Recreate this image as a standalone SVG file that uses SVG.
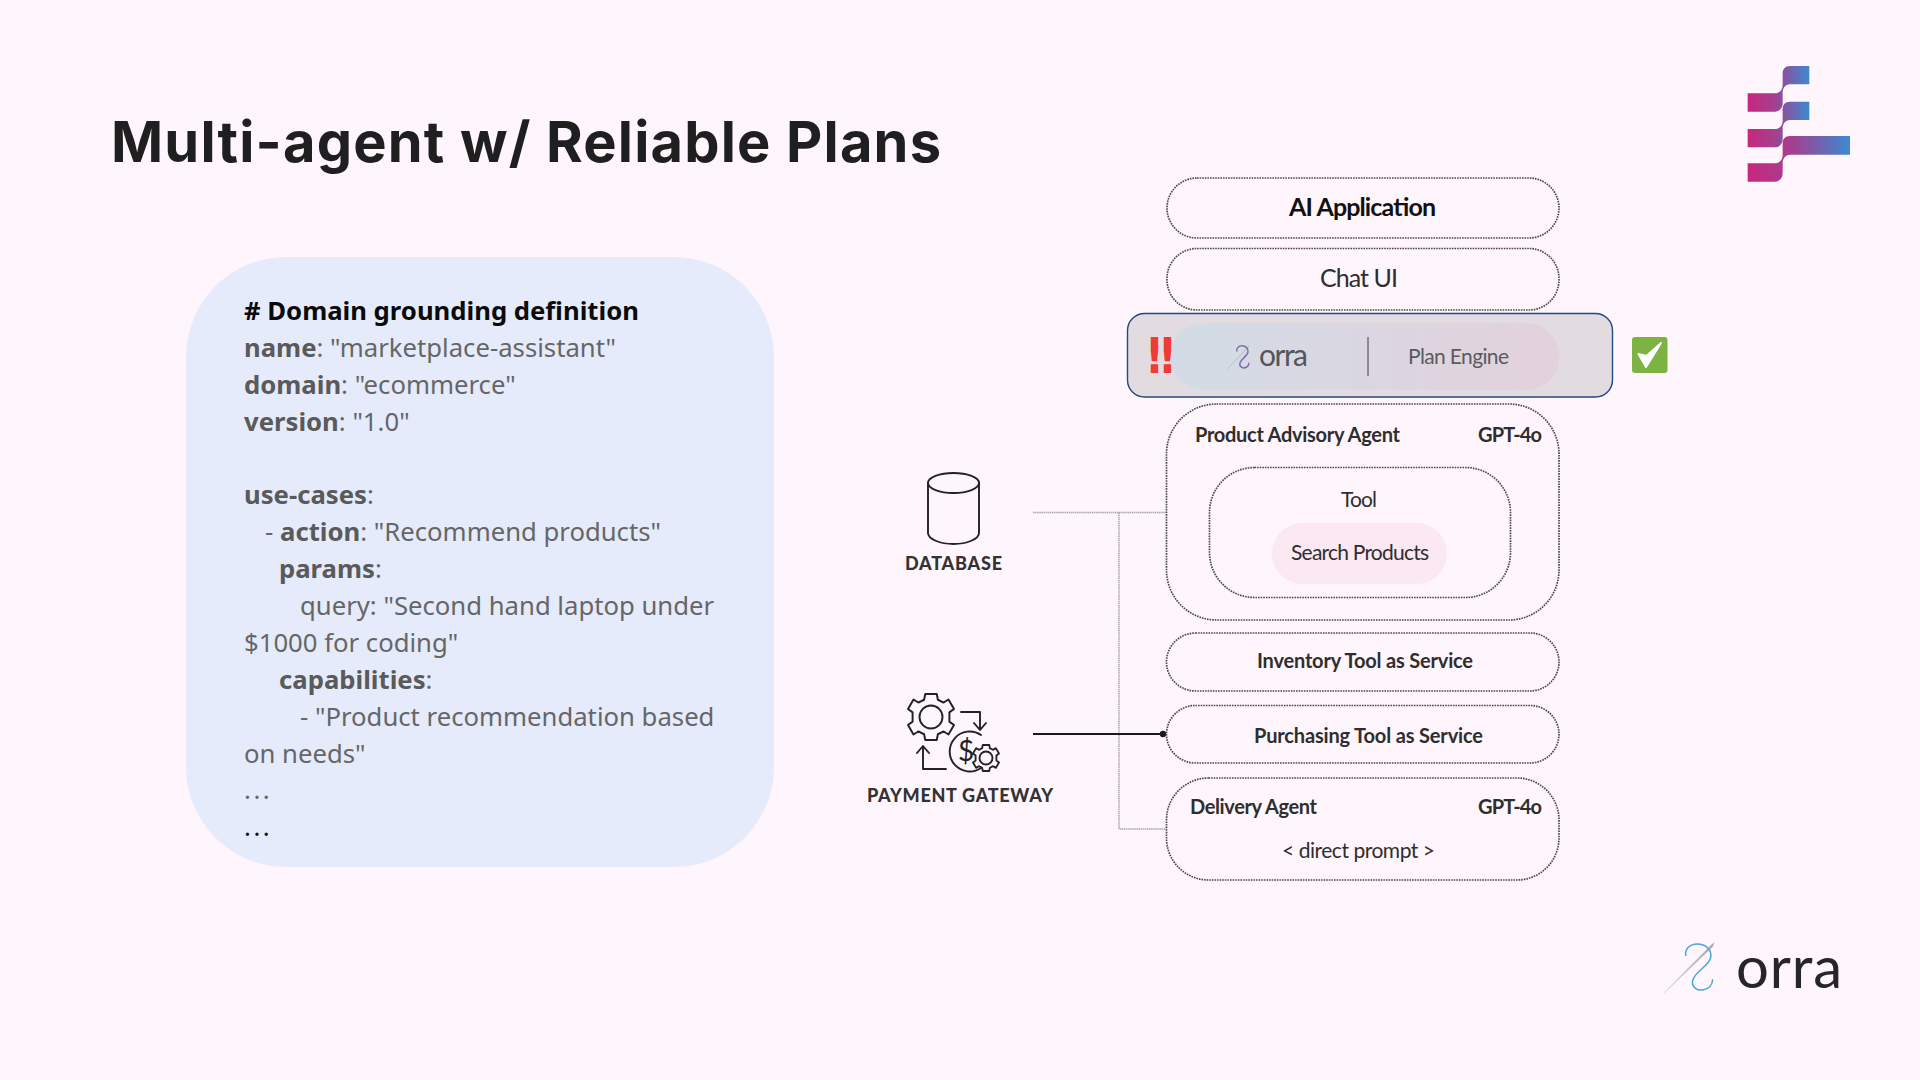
<svg xmlns="http://www.w3.org/2000/svg" width="1920" height="1080" viewBox="0 0 1920 1080">
<style>
.box{fill:none;stroke:#4a4a4a;stroke-width:1.7;stroke-dasharray:1.6 1}
.f{font-family:"Lato","Noto Sans",sans-serif;fill:#2e2e2e}
.m{font-weight:700;font-size:20px}
.r{font-weight:400;font-size:21px}
.p{font-family:"Noto Sans","Open Sans",sans-serif;font-size:25.7px;fill:#666}
.b{font-weight:700;fill:#5a5a5a}
.lab{font-family:"Lato",sans-serif;font-weight:900;font-size:18px;fill:#333}
.ic{fill:none;stroke:#222;stroke-width:1.9;stroke-linecap:round;stroke-linejoin:round}
</style>
<defs>
<linearGradient id="lg" x1="0" x2="1" y1="0" y2="0"><stop offset="0" stop-color="#c9267f"/><stop offset=".45" stop-color="#a2418f"/><stop offset="1" stop-color="#3b8ad2"/></linearGradient>
<linearGradient id="pill" x1="0" x2="1" y1="0" y2="0"><stop offset="0" stop-color="#d2dce6"/><stop offset="1" stop-color="#e3d1dc"/></linearGradient>
<linearGradient id="ndl" x1="0" x2="1" y1="1" y2="0"><stop offset="0" stop-color="#e2e2e6"/><stop offset="1" stop-color="#a3a3a8"/></linearGradient>
<marker id="dot" viewBox="0 0 8 8" refX="4" refY="4" markerWidth="8" markerHeight="8" markerUnits="userSpaceOnUse"><circle cx="4" cy="4" r="3.2" fill="#1a1a1a"/></marker>
<path id="thread" d="M138 108C132 88 150 72 172 72C198 72 216 90 212 112C207 140 165 152 158 182C154 202 172 212 188 210C206 207 218 195 218 178" fill="none"/>
<path id="needle" d="M69 220L214 74L224 67L218 80L72 221Z"/>
<path id="teeth" d="M-2.5 -10H2.5L3 -7.5L5.500 -6.300L7.600 -7.600L10 -3.500L8 -2L8 2L10 3.500L7.600 7.600L5.500 6.300L3 7.500L2.500 10H-2.500L-3 7.500L-5.500 6.300L-7.600 7.600L-10 3.500L-8 2L-8 -2L-10 -3.500L-7.600 -7.600L-5.500 -6.300L-3 -7.500Z"/>
</defs>
<rect width="1920" height="1080" fill="#fff5fc"/>

<text x="111" y="162" font-family="Inter,Lato,sans-serif" font-weight="700" font-size="56" fill="#1f1f1f" textLength="830" lengthAdjust="spacing">Multi-agent w/ Reliable Plans</text>

<g id="logo-mark" transform="translate(1640 40) scale(.3333)" fill="url(#lg)">
<path d="M323 160H405C420 160 428 148 428 135V100C428 88 435 78 450 78H508V133H450C438 133 430 142 428 155V190C428 205 418 215 405 215H323Z"/>
<path d="M323 267H405C420 267 428 255 428 242V207C428 195 435 185 450 185H508V240H450C438 240 430 249 428 262V297C428 312 418 322 405 322H323Z"/>
<path d="M323 370H405C420 370 428 358 428 345V310C428 298 435 288 450 288H630V344H450C438 344 430 353 428 366V400C428 415 418 425 405 425H323Z"/>
</g>

<g id="domain-panel">
<rect x="186" y="257" width="588" height="610" rx="100" fill="#e5ebfb"/>
<text class="p" y="320"><tspan x="244" font-weight="700" fill="#0a0a0a"># Domain grounding definition</tspan></text>
<text class="p" y="357"><tspan x="244" class="b">name</tspan>: "marketplace-assistant"</text>
<text class="p" y="394"><tspan x="244" class="b">domain</tspan>: "ecommerce"</text>
<text class="p" y="431"><tspan x="244" class="b">version</tspan>: "1.0"</text>
<text class="p" y="504"><tspan x="244" class="b">use-cases</tspan>:</text>
<text class="p" y="541"><tspan x="265">- </tspan><tspan x="280" class="b">action</tspan>: "Recommend products"</text>
<text class="p" y="578"><tspan x="279" class="b">params</tspan>:</text>
<text class="p" y="615"><tspan x="300">query: "Second hand laptop under</tspan></text>
<text class="p" y="652"><tspan x="244">$1000 for coding"</tspan></text>
<text class="p" y="689"><tspan x="279" class="b">capabilities</tspan>:</text>
<text class="p" y="726"><tspan x="300">- "Product recommendation based</tspan></text>
<text class="p" y="763"><tspan x="244">on needs"</tspan></text>
<text class="p" y="799" letter-spacing="2.5"><tspan x="244">...</tspan></text>
<text class="p" y="836" letter-spacing="2.5"><tspan x="244" fill="#111">...</tspan></text>
</g>

<g id="connectors" fill="none">
<path d="M1033 512.500H1166M1119 512.500V829H1166" stroke="#a9a9ad" stroke-width="1.500" stroke-dasharray="1.500 .6"/>
<path d="M1033 734H1163" stroke="#1a1a1a" stroke-width="1.800" marker-end="url(#dot)"/>
</g>

<g id="database">
<g class="ic"><ellipse cx="953.500" cy="483" rx="25.500" ry="10"/><path d="M928 483V533C928 539 940 544 953.500 544S979 539 979 533V483"/></g>
<text class="lab" x="905" y="570" textLength="97">DATABASE</text>
</g>

<g id="payment-gateway">
<g class="ic">
<g transform="translate(931 717) scale(2.3)" stroke-width=".85"><use href="#teeth"/></g>
<circle cx="931" cy="717" r="11.500"/>
<path d="M961 712H980V729M974 723L980 730L986 723"/>
<path d="M946 769H923V747M917 753L923 746L929 753"/>
<path d="M981 735A20 20 0 1 0 981 768"/>
<g transform="translate(986 758) scale(1.3)" stroke-width="1.400"><use href="#teeth"/></g>
<circle cx="986" cy="758" r="6.500"/>
</g>
<text x="966" y="761" font-family="Lato,sans-serif" font-size="28" fill="#222" text-anchor="middle">$</text>
<text class="lab" x="867" y="802" textLength="186">PAYMENT GATEWAY</text>
</g>

<g id="ai-application">
<rect class="box" x="1167" y="178" width="392" height="60" rx="30"/>
<text class="f" x="1289" y="216" font-size="25" font-weight="700" style="fill:#111" textLength="147">AI Application</text>
</g>
<g id="chat-ui">
<rect class="box" x="1167" y="248.500" width="392" height="61.500" rx="30"/>
<text class="f" x="1320" y="287" font-size="25" textLength="78">Chat UI</text>
</g>

<g id="plan-engine">
<rect x="1127.500" y="313.500" width="485" height="83.500" rx="17" fill="#e2dce1" stroke="#1f4a85" stroke-width="1.400"/>
<rect x="1170" y="323" width="389.500" height="67" rx="33.500" fill="url(#pill)"/>
<text x="1148" y="373" font-family="'DejaVu Sans',sans-serif" font-weight="700" font-size="50" fill="#ef3b33" textLength="26" lengthAdjust="spacingAndGlyphs">‼</text>
<g transform="translate(1226.500 345) scale(.15 .16) translate(-69 -67)">
<use href="#needle" fill="#b8c0c8"/>
<use href="#thread" stroke="#7f6db0" stroke-width="10"/>
</g>
<text x="1259" y="366" font-family="Lato,sans-serif" font-size="30" fill="#55555a" textLength="49">orra</text>
<path d="M1368 337V376" stroke="#77777c" stroke-width="1.600"/>
<text x="1408" y="364" font-family="Lato,sans-serif" font-size="21" fill="#5a5a60" textLength="101">Plan Engine</text>
</g>

<g id="check">
<rect x="1632" y="337" width="35.500" height="36" rx="3" fill="#7cb342"/>
<path d="M1638.500 354L1646 367L1661 343L1646.500 356Z" fill="#fff" stroke="#fff" stroke-width="2" stroke-linejoin="round"/>
</g>

<g id="product-advisory-agent">
<rect class="box" x="1166.500" y="404" width="392.500" height="216" rx="50"/>
<text class="f m" x="1195" y="442" textLength="205">Product Advisory Agent</text>
<text class="f m" x="1478" y="442" textLength="64">GPT-4o</text>
</g>
<g id="tool">
<rect class="box" x="1209.500" y="467.500" width="301" height="130" rx="45"/>
<text class="f r" x="1341" y="507" textLength="36">Tool</text>
</g>
<g id="search-products">
<rect x="1272" y="523" width="175" height="61" rx="30.500" fill="#fbe8f3"/>
<text class="f r" x="1291" y="560" textLength="138">Search Products</text>
</g>
<g id="inventory-tool">
<rect class="box" x="1166.500" y="633" width="392.500" height="58" rx="29"/>
<text class="f m" x="1257" y="668" textLength="216">Inventory Tool as Service</text>
</g>
<g id="purchasing-tool">
<rect class="box" x="1166.500" y="705.500" width="392.500" height="57.500" rx="29"/>
<text class="f m" x="1254" y="743" textLength="229">Purchasing Tool as Service</text>
</g>
<g id="delivery-agent">
<rect class="box" x="1166.500" y="778" width="392.500" height="102" rx="42"/>
<text class="f m" x="1190" y="814" textLength="127">Delivery Agent</text>
<text class="f m" x="1478" y="814" textLength="64">GPT-4o</text>
<text class="f r" x="1282" y="858" textLength="153">&lt; direct prompt &gt;</text>
</g>

<g id="orra-logo">
<g transform="translate(1640 920) scale(.3333)">
<use href="#needle" fill="url(#ndl)"/>
<use href="#thread" stroke="#4aa6da" stroke-width="4.500"/>
</g>
<text x="1736" y="988" font-family="Lato,sans-serif" font-size="58" fill="#262626" textLength="106">orra</text>
</g>
</svg>
